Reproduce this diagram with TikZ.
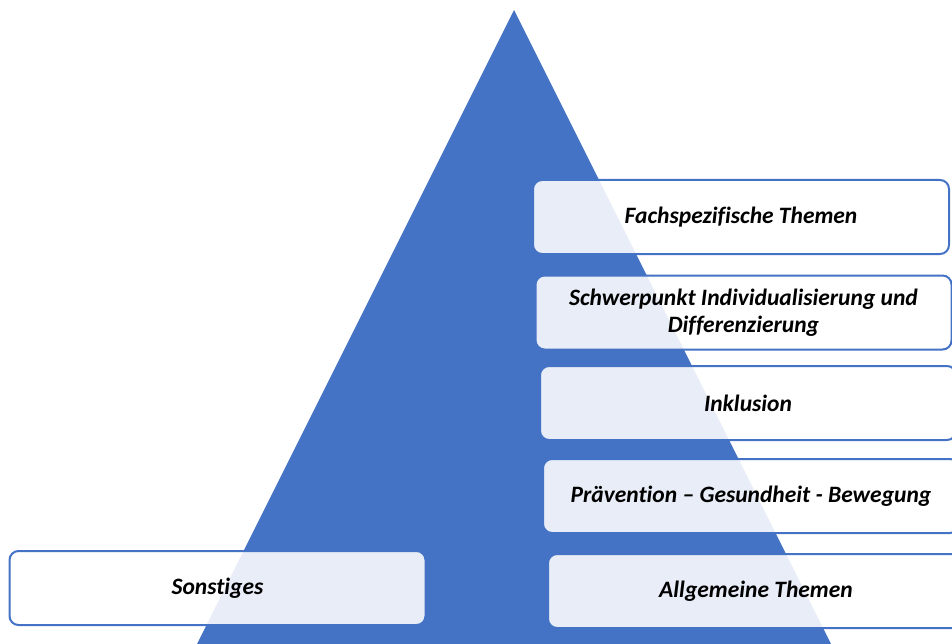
\documentclass[tikz,border=0pt]{standalone}
\usepackage{fontspec}
\setmainfont{Carlito}[Ligatures=NoCommon]
\definecolor{pyrblue}{HTML}{4472C4}

\begin{document}
\begin{tikzpicture}[x=1pt,y=-1pt,
    topic/.style={draw=pyrblue,line width=2pt,rounded corners=9pt,
      fill=white,fill opacity=0.88,text opacity=1,inner sep=0pt,
      minimum width=416pt,minimum height=74pt,align=center,
      font=\fontsize{23.5}{27}\selectfont\bfseries\itshape}]
          \useasboundingbox (0,0) rectangle (952,644);
          \clip (0,0) rectangle (952,644);
          \path[coordinate] (514,10) coordinate (apex)
            ++(-330,660) coordinate (L)
            ++(660,0) coordinate (R);
          \fill[pyrblue] (apex) -- (L) -- (R) -- cycle;
          \node[topic] (fach) at (741,217) {Fachspezifische Themen};
          \node[topic] (schwer) at (743.5,312.5)
            {Schwerpunkt Individualisierung und\\Differenzierung};
          \node[topic] (inkl) at (748,403) {Inklusion};
          \node[topic] (praev) at (751,496) {Prävention -- Gesundheit - Bewegung};
          \node[topic] (allg) at (756,591) {Allgemeine Themen};
          \node[topic] (sonst) at (217.5,588) {Sonstiges};
        \end{tikzpicture}
\end{document}
